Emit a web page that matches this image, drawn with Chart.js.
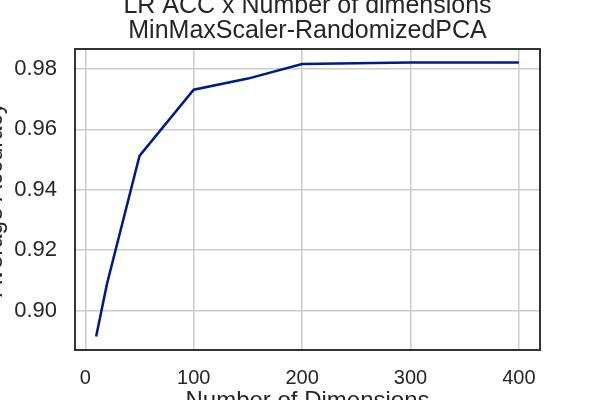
<!DOCTYPE html>
<html>
<head>
<meta charset="utf-8">
<script src="https://cdn.jsdelivr.net/npm/chart.js@4"></script>
<style>
  html, body { margin: 0; padding: 0; background: #fff; }
  #wrap { width: 600px; height: 400px; }
</style>
</head>
<body>
<div id="wrap"><canvas id="lr-chart" width="600" height="400"></canvas></div>
<script>
// values
const dimensions = [10, 20, 50, 100, 150, 200, 300, 400];
const accuracy = [0.8914, 0.9088, 0.9512, 0.9731, 0.9768, 0.9816, 0.9821, 0.9821];
const xTicks = [0, 100, 200, 300, 400];
const yTicks = [0.90, 0.92, 0.94, 0.96, 0.98];
const titleLines = ["LR ACC x Number of dimensions", "MinMaxScaler-RandomizedPCA"];
const xTitle = "Number of Dimensions";
const yTitle = "Average Accuracy";

const textColor = "#262626";
const fontFamily = "'Liberation Sans', Arial, sans-serif";

// frame + titles drawn by hand, matplotlib style
const framePlugin = {
    id: "frame",
    afterDraw(chart) {
        const ctx = chart.ctx;
        const a = chart.chartArea;
        ctx.save();
        ctx.strokeStyle = "#333333";
        ctx.lineWidth = 2;
        ctx.strokeRect(a.left, a.top, a.right - a.left, a.bottom - a.top);

        ctx.fillStyle = textColor;
        ctx.textAlign = "center";
        ctx.textBaseline = "alphabetic";
        ctx.font = "25px " + fontFamily;
        const cx = (a.left + a.right) / 2;
        ctx.fillText(titleLines[0], cx, 13);
        ctx.fillText(titleLines[1], cx, 38);

        ctx.font = "24px " + fontFamily;
        ctx.textBaseline = "top";
        ctx.fillText(xTitle, cx, 389);

        ctx.translate(2, (a.top + a.bottom) / 2);
        ctx.rotate(-Math.PI / 2);
        ctx.textBaseline = "alphabetic";
        ctx.fillText(yTitle, 0, 0);
        ctx.restore();
    }
};

const ctx = document.getElementById("lr-chart").getContext("2d");

const lrChart = new Chart(ctx, {
    type: "line",
    data: {
        datasets: [{
            label: "LR ACC",
            data: dimensions.map((d, i) => ({ x: d, y: accuracy[i] })),
            borderColor: "#001c7f",
            borderWidth: 2.5,
            pointRadius: 0,
            tension: 0,
            fill: false,
        }],
    },
    options: {
        responsive: false,
        animation: false,
        devicePixelRatio: 1,
        layout: {
            padding: { top: 49, right: 60, left: 0, bottom: 0 },
        },
        plugins: {
            legend: { display: false },
            title: { display: false },
            tooltip: { enabled: false },
        },
        scales: {
            x: {
                type: "linear",
                min: -9.5,
                max: 419.5,
                afterBuildTicks: (scale) => { scale.ticks = xTicks.map(v => ({ value: v })); },
                afterFit: (scale) => { scale.height = 50; },
                grid: { color: "#cccccc", lineWidth: 1.5, drawTicks: false },
                border: { display: false },
                ticks: {
                    color: textColor,
                    font: { family: fontFamily, size: 20 },
                    padding: 16,
                    maxRotation: 0,
                },
            },
            y: {
                type: "linear",
                min: 0.8869,
                max: 0.9866,
                afterBuildTicks: (scale) => { scale.ticks = yTicks.map(v => ({ value: v })); },
                afterFit: (scale) => { scale.width = 75; },
                grid: { color: "#cccccc", lineWidth: 1.5, drawTicks: false },
                border: { display: false },
                ticks: {
                    color: textColor,
                    font: { family: fontFamily, size: 22 },
                    padding: 18,
                    callback: (v) => v.toFixed(2),
                },
            },
        },
    },
    plugins: [framePlugin],
});
</script>
</body>
</html>
